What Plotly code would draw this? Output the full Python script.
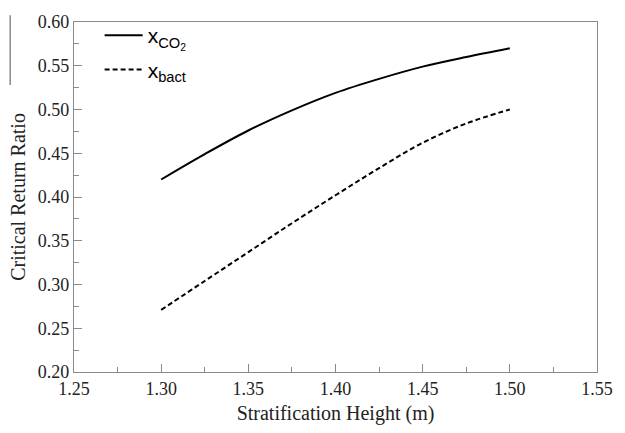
import plotly.graph_objects as go

height = [1.30, 1.325, 1.35, 1.375, 1.40, 1.425, 1.45, 1.475, 1.50]
x_co2 = [0.420, 0.449, 0.476, 0.499, 0.519, 0.535, 0.549, 0.560, 0.570]
x_bact = [0.271, 0.304, 0.337, 0.370, 0.402, 0.433, 0.462, 0.484, 0.500]

GRAY = "#8a8a8a"

fig = go.Figure()
fig.add_trace(go.Scatter(x=height, y=x_co2, mode="lines", legend="legend", showlegend=True,
                         name="x<sub>CO<sub>2</sub></sub>",
                         line=dict(color="black", width=2, shape="spline", smoothing=1.0)))
fig.add_trace(go.Scatter(x=height, y=x_bact, mode="lines", legend="legend2", showlegend=True,
                         name="x<sub>bact</sub>",
                         line=dict(color="black", width=2, dash="5px,3px", shape="spline", smoothing=1.0)))

axis_common = dict(
    showline=True, linecolor=GRAY, linewidth=1.2, mirror=True,
    ticks="inside", ticklen=8, tickcolor=GRAY, tickwidth=1,
    showgrid=False, zeroline=False,
    tickfont=dict(family="Liberation Serif", size=18, color="#222"),
)

fig.update_xaxes(range=[1.25, 1.55], dtick=0.05, tickformat=".2f",
                 minor=dict(ticks="inside", ticklen=5, dtick=0.025, tickcolor=GRAY),
                 title=dict(text="Stratification Height (m)", standoff=8,
                            font=dict(family="Liberation Serif", size=20, color="#222")),
                 **axis_common)
fig.update_yaxes(range=[0.20, 0.60], dtick=0.05, tickformat=".2f",
                 minor=dict(ticks="inside", ticklen=5, dtick=0.025, tickcolor=GRAY),
                 title=dict(text="Critical Return Ratio", standoff=6,
                            font=dict(family="Liberation Serif", size=20, color="#222")),
                 **axis_common)

fig.add_shape(type="line", xref="paper", yref="paper", x0=-0.122, x1=-0.122, y0=0.82, y1=1.019,
              line=dict(color=GRAY, width=1.5))

leg_common = dict(xanchor="left", yanchor="top", bgcolor="rgba(0,0,0,0)", itemwidth=38,
                  font=dict(family="Liberation Sans", size=21, color="black"))
fig.update_layout(
    width=625, height=433, showlegend=True,
    margin=dict(l=74, r=19, t=17, b=55),
    paper_bgcolor="white", plot_bgcolor="white",
    legend=dict(x=0.049, y=1.02, **leg_common),
    legend2=dict(x=0.049, y=0.922, **leg_common),
)

fig.write_html("out.html")
